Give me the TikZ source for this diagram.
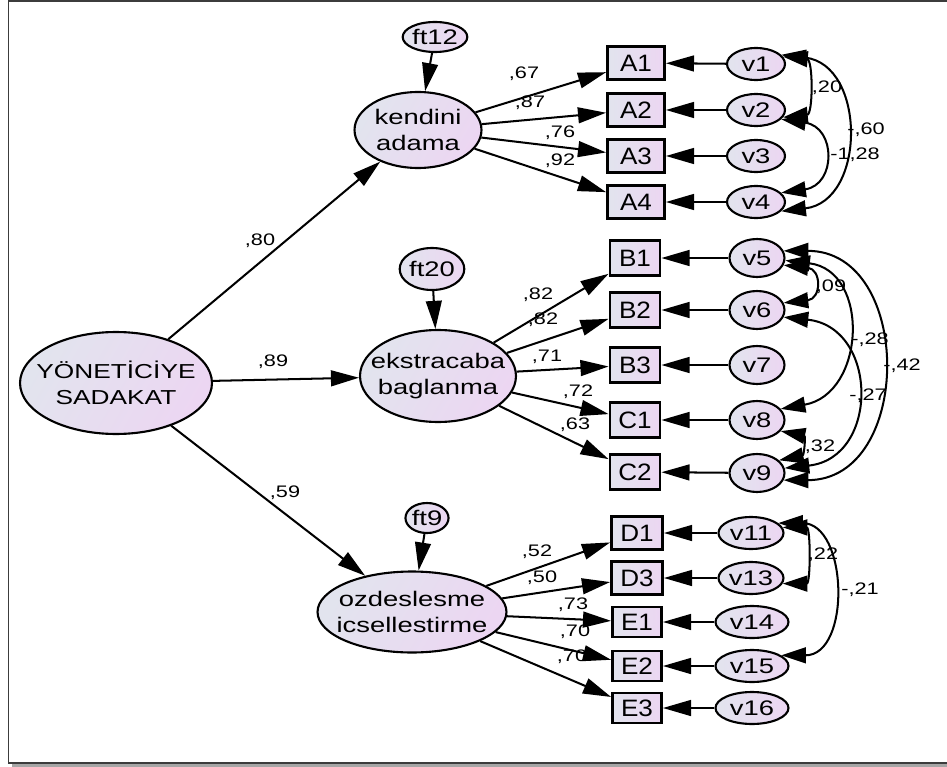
\documentclass[tikz,border=0pt]{standalone}
\usepackage{fontspec}
\setmainfont{Liberation Sans}
\newfontfamily\wf[FakeStretch=1.3]{Liberation Sans}
\newfontfamily\rf[FakeStretch=1.1]{Liberation Sans}
\usetikzlibrary{arrows.meta,shapes.geometric}
\definecolor{gl}{RGB}{226,228,238}
\definecolor{pl}{RGB}{236,214,242}
\definecolor{framec}{RGB}{60,60,60}
\begin{document}
\begin{tikzpicture}[x=0.02cm,y=-0.02cm,
  lat/.style={ellipse, draw, line width=1.2pt, left color=gl, right color=pl, shading angle=60, inner sep=0pt},
  lt/.style={align=center, inner sep=0pt, font=\wf\fontsize{12}{14.5}\selectfont},
  ve/.style={ellipse, draw, line width=1.2pt, left color=gl, right color=pl, inner sep=0pt, font=\wf\fontsize{12}{13}\selectfont},
  ind/.style={rectangle, draw, line width=1.6pt, left color=gl, right color=pl, inner sep=0pt, font=\rf\fontsize{13.5}{14}\selectfont},
  cf/.style={inner sep=0pt, font=\wf\fontsize{9.5}{10}\selectfont},
  arr/.style={line width=1.15pt, -{Triangle[length=16pt,width=9pt]}},
  cov/.style={line width=1.15pt, {Triangle[length=14pt,width=9pt]}-{Triangle[length=14pt,width=9pt]}}
]
\useasboundingbox (0,0) rectangle (947,767);
\fill[white] (0,0) rectangle (947,767);
% frame
\fill[black!35] (12,763) rectangle (947,767);
\draw[line width=1pt, framec] (947,0.8) -- (8.5,0.8) -- (8.5,763) -- (947,763);

% latent variables
\node[lat, minimum width=3.84cm, minimum height=2.04cm] (yon) at (116,383) {};
\node[lt, font=\wf\fontsize{11.5}{14.5}\selectfont] (yont) at (yon) {YÖNETİCİYE\\SADAKAT};
\node[lat, minimum width=2.54cm, minimum height=1.52cm] (kend) at (418,130) {};
\node[lt] (kendt) at (kend) {kendini\\adama};
\node[lat, minimum width=3.12cm, minimum height=1.84cm] (ekst) at (438,376) {};
\node[lt] (ekstt) at (ekst) {ekstracaba\\baglanma};
\node[lat, minimum width=3.78cm, minimum height=1.62cm] (ozd) at (412,612) {};
\node[lt] (ozdt) at (ozd) {ozdeslesme\\icsellestirme};

\node[ve, minimum width=1.28cm, minimum height=0.6cm] (ft12) at (435,37) {ft12};
\node[ve, minimum width=1.24cm, minimum height=0.84cm] (ft20) at (432,269) {ft20};
\node[ve, minimum width=0.82cm, minimum height=0.6cm] (ft9) at (427,518) {ft9};

% indicators
\foreach \n/\y in {A1/63,A2/110,A3/156,A4/202}
  \node[ind, minimum width=1.14cm, minimum height=0.66cm] (\n) at (636,\y) {\n};
\foreach \n/\y in {B1/258,B2/310,B3/365,C1/420,C2/472}
  \node[ind, minimum width=1.0cm, minimum height=0.7cm] (\n) at (635,\y) {\n};
\foreach \n/\y in {D1/533,D3/578}
  \node[ind, minimum width=1.02cm, minimum height=0.66cm] (\n) at (637,\y) {\n};
\foreach \n/\y in {E1/622,E2/666,E3/708}
  \node[ind, minimum width=0.98cm, minimum height=0.6cm] (\n) at (637,\y) {\n};

% errors
\foreach \n/\y in {v1/64,v2/110,v3/156,v4/202}
  \node[ve, minimum width=1.16cm, minimum height=0.64cm] (\n) at (756,\y) {\n};
\foreach \n/\y in {v5/258,v6/310,v7/365,v8/420,v9/473}
  \node[ve, minimum width=1.1cm, minimum height=0.76cm] (\n) at (757,\y) {\n};
\foreach \n/\y in {v11/533,v13/578}
  \node[ve, minimum width=1.3cm, minimum height=0.64cm] (\n) at (751,\y) {\n};
\foreach \n/\y in {v14/622,v15/666,v16/708}
  \node[ve, minimum width=1.46cm, minimum height=0.64cm] (\n) at (752,\y) {\n};

% structural paths
\draw[arr] (yon) -- (kend);
\draw[arr] (yon) -- (ekst);
\draw[arr] (yon) -- (ozd);
\draw[arr] (ft12) -- (kend);
\draw[arr] (ft20) -- (ekst);
\draw[arr] (ft9) -- (ozd);

% loadings
\foreach \n in {A1,A2,A3,A4} \draw[arr] (kend) -- (\n);
\foreach \n in {B1,B2,B3,C1,C2} \draw[arr] (ekst) -- (\n);
\foreach \n in {D1,D3,E1,E2,E3} \draw[arr] (ozd) -- (\n);

% error paths
\foreach \v/\n in {v1/A1,v2/A2,v3/A3,v4/A4,v5/B1,v6/B2,v7/B3,v8/C1,v9/C2,v11/D1,v13/D3,v14/E1,v15/E2,v16/E3}
  \draw[arr] (\v) -- (\n);

% covariances
\draw[cov] (v1.15) .. controls +(30,3) and +(30,-3) .. (v2.-15);
\draw[cov] (v1.20) .. controls +(85,10) and +(85,-10) .. (v4.-20);
\draw[cov] (v2.-20) .. controls +(55,8) and +(55,-8) .. (v4.20);
\draw[cov] (v5.-15) .. controls +(38,4) and +(38,-4) .. (v6.15);
\draw[cov] (v5.-5) .. controls +(85,10) and +(85,-15) .. (v8.25);
\draw[cov] (v5.15) .. controls +(130,0) and +(130,0) .. (v9.-15);
\draw[cov] (v6.-15) .. controls +(95,10) and +(95,-10) .. (v9.10);
\draw[cov] (v8.-25) .. controls +(25,5) and +(25,-5) .. (v9.30);
\draw[cov] (v11.10) .. controls +(28,0) and +(28,0) .. (v13.-10);
\draw[cov] (v11.20) .. controls +(70,0) and +(70,0) .. (v15.20);

% coefficient labels
\node[cf] (c1) at (260,241) {,80};
\node[cf] (c2) at (273,362) {,89};
\node[cf] (c3) at (285,493) {,59};
\node[cf] (a1) at (524,74) {,67};
\node[cf] (a2) at (530,103) {,87};
\node[cf] (a3) at (560,133) {,76};
\node[cf] (a4) at (560,161) {,92};
\node[cf] (b1) at (538,295) {,82};
\node[cf] (b2) at (543,320) {,82};
\node[cf] (b3) at (547,357) {,71};
\node[cf] (b4) at (578,392) {,72};
\node[cf] (b5) at (575,425) {,63};
\node[cf] (d1) at (537,552) {,52};
\node[cf] (d2) at (542,578) {,50};
\node[cf] (d3) at (573,605) {,73};
\node[cf] (d4) at (575,632) {,70};
\node[cf] (d5) at (572,657) {,70};
\node[cf] (r1) at (827,88) {,20};
\node[cf] (r2) at (866,130) {-,60};
\node[cf] (r3) at (855,155) {-1,28};
\node[cf] (r4) at (831,287) {,09};
\node[cf] (r5) at (870,340) {-,28};
\node[cf] (r6) at (902,366) {-,42};
\node[cf] (r7) at (868,396) {-,27};
\node[cf] (r8) at (820,447) {,32};
\node[cf] (r9) at (823,555) {,22};
\node[cf] (r10) at (860,590) {-,21};
\end{tikzpicture}
\end{document}
